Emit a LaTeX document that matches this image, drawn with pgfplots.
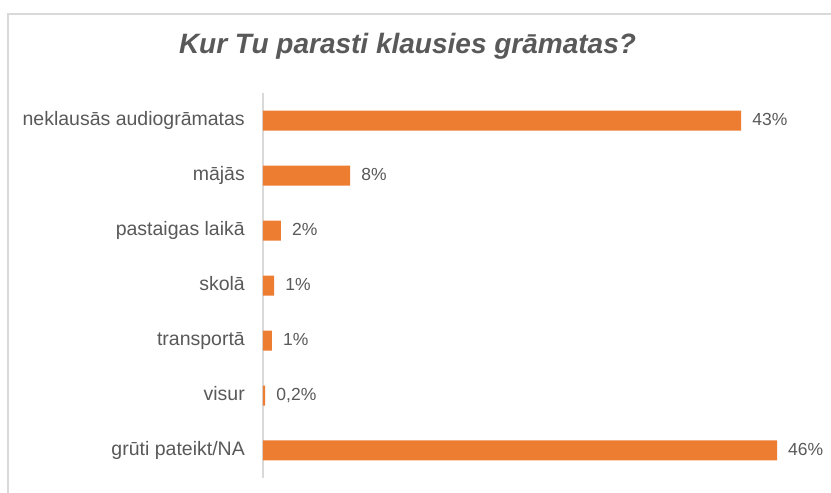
\documentclass[border=0pt]{standalone}
\usepackage{pgfplots}
\pgfplotsset{compat=1.18}
\usepackage{fontspec}
\setmainfont{Liberation Sans}
\definecolor{barc}{HTML}{ED7D31}
\definecolor{txt}{HTML}{595959}
\definecolor{framec}{HTML}{D9D9D9}
\begin{document}
\begin{tikzpicture}[x=1pt,y=1pt]
\fill[white] (0,0) rectangle (831,493);
\draw[framec, line width=1.5pt] (8,0) -- (8,479) -- (831,479);
\node[anchor=base, text=txt, font=\fontsize{28}{32}\selectfont\bfseries\itshape] at (407.5,439) {Kur Tu parasti klausies grāmatas?};
\begin{axis}[
  at={(263pt,15pt)}, anchor=south west,
  scale only axis, width=514pt, height=385pt,
  xmin=0, xmax=46, ymin=-0.5, ymax=6.5,
  xbar, bar width=20pt,
  axis x line=none, axis y line=left,
  y axis line style={-, draw=framec, line width=1.3pt},
  ytick={0,...,6},
  yticklabels={grūti pateikt/NA, visur, transportā, skolā, pastaigas laikā, mājās, neklausās audiogrāmatas},
  major tick length=0pt,
  yticklabel style={text=txt, font=\fontsize{19.5}{23}\selectfont, inner sep=0pt, anchor=mid east, xshift=-18pt, yshift=-2.5pt},
  nodes near coords, point meta=explicit symbolic,
  every node near coord/.append style={text=txt, font=\fontsize{17.5}{20}\selectfont, anchor=mid west, inner sep=0pt, xshift=11pt, yshift=-2.5pt},
  clip=false,
]
\addplot[fill=barc, draw=none] coordinates {
(46,0) [46\%]
(0.2,1) [0,2\%]
(0.8,2) [1\%]
(1.0,3) [1\%]
(1.6,4) [2\%]
(7.8,5) [8\%]
(42.8,6) [43\%]
};
\end{axis}
\pgfresetboundingbox
\useasboundingbox (0,0) rectangle (831,493);
\end{tikzpicture}
\end{document}
